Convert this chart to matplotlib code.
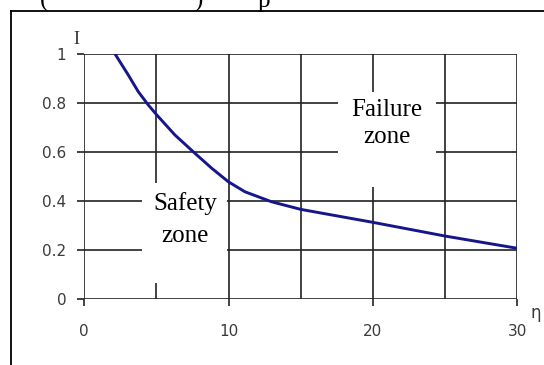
import matplotlib
matplotlib.use("Agg")
import matplotlib.pyplot as plt
from matplotlib.lines import Line2D
from matplotlib.patches import Rectangle

eta = [2.13, 3.05, 3.74, 4.43, 5.02, 6.28, 7.67, 8.83, 9.98, 11.13, 12.98, 15, 20, 25, 30]
I_vals = [1.0, 0.914, 0.846, 0.792, 0.751, 0.669, 0.594, 0.533, 0.478, 0.437, 0.396, 0.365, 0.312, 0.256, 0.206]
xticks = [0, 10, 20, 30]
xgrid = [0, 5, 10, 15, 20, 25, 30]
yticks = [0, 0.2, 0.4, 0.6, 0.8, 1]
ytick_labels = ["0", "0.2", "0.4", "0.6", "0.8", "1"]

W, H = 544, 365
fig = plt.figure(figsize=(W / 100, H / 100), dpi=100)
ax = fig.add_axes([84.3 / W, 1 - 298.7 / H, (517.3 - 84.3) / W, (298.7 - 54) / H])

ax.set_xlim(0, 30)
ax.set_ylim(0, 1)
gc = "#222222"
for x in xgrid:
    ax.axvline(x, color=gc, lw=1.2, zorder=1)
for y in yticks:
    ax.axhline(y, color=gc, lw=1.2, zorder=1)

# white label boxes interrupting the grid
ax.add_patch(Rectangle((17.61, 0.456), 24.35 - 17.61, 0.845 - 0.456,
                       facecolor="white", edgecolor="none", zorder=2))
ax.add_patch(Rectangle((4.03, 0.064), 9.91 - 4.03, 0.471 - 0.064,
                       facecolor="white", edgecolor="none", zorder=2))

ax.plot(eta, I_vals, color="#15158c", lw=2.1, zorder=3, solid_joinstyle="round")

for s in ax.spines.values():
    s.set_visible(False)

ax.set_xticks(xticks)
ax.set_xticklabels([str(v) for v in xticks])
ax.set_yticks(yticks)
ax.set_yticklabels(ytick_labels)
ax.tick_params(axis="both", direction="out", length=5, width=1.2, color=gc,
               labelsize=11, labelcolor="#3a3a3a")
ax.tick_params(axis="x", pad=13)
ax.tick_params(axis="y", pad=8)

tf = ["Liberation Serif", "DejaVu Serif"]
ax.text(20.95, 0.771, "Failure", family=tf, fontsize=18, ha="center", va="center", zorder=4)
ax.text(20.95, 0.659, "zone", family=tf, fontsize=18, ha="center", va="center", zorder=4)
ax.text(6.97, 0.390, "Safety", family=tf, fontsize=18, ha="center", va="center", zorder=4)
ax.text(6.97, 0.255, "zone", family=tf, fontsize=18, ha="center", va="center", zorder=4)

fig.text(76.7 / W, 1 - 40 / H, "I", family=tf, fontsize=13, ha="center", va="center", color="#333333")
fig.text(535.7 / W, 1 - 313.3 / H, "η", fontsize=12, ha="center", va="center", color="#3a3a3a")

# clipped fragments of text above the chart
for px, ch in [(44, "("), (198, ")"), (264, "p")]:
    fig.text(px / W, 1 - 7 / H, ch, family=tf, fontsize=18, ha="center", va="baseline")

# outer border (clipped at right/bottom)
bx = 11 / W
by = 1 - 11 / H
fig.add_artist(Line2D([bx, bx], [0, by], transform=fig.transFigure, color="black", lw=1.3))
fig.add_artist(Line2D([bx, 1], [by, by], transform=fig.transFigure, color="black", lw=1.3))

fig.savefig("out.png", dpi=100)
